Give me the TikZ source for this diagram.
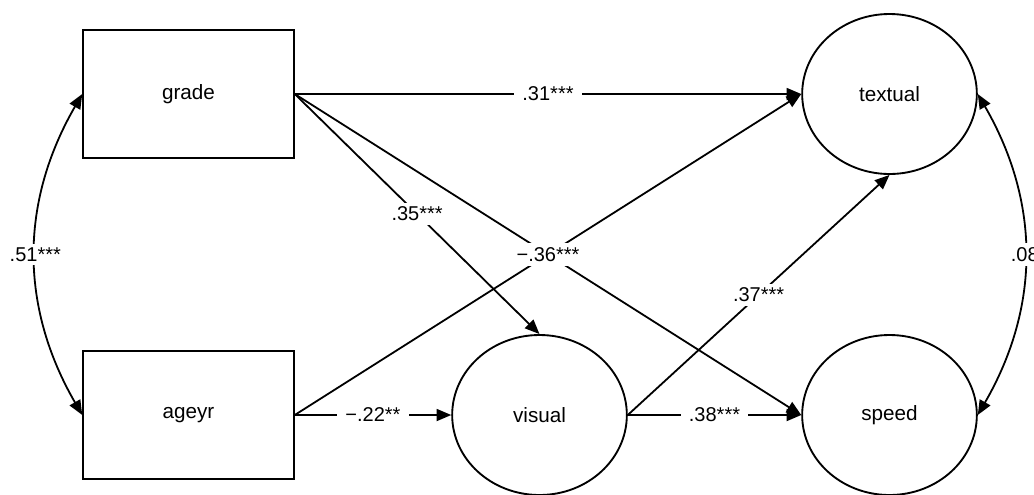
\documentclass[tikz,border=0pt]{standalone}
\usepackage{fontspec}
\setmainfont{Liberation Sans}
\usetikzlibrary{arrows.meta,shapes.geometric}

\begin{document}
\begin{tikzpicture}[x=0.75pt,y=-0.75pt,
  obs/.style={draw, line width=1.4pt, rectangle, inner sep=0pt,
    minimum width=158pt, minimum height=96pt,
    font=\fontsize{15.5}{18}\selectfont},
  lat/.style={draw, line width=1.4pt, ellipse, inner sep=0pt,
    minimum width=131pt, minimum height=120pt,
    font=\fontsize{15.5}{18}\selectfont},
  tip/.tip={Triangle[length=11pt,width=9pt]},
  regr/.style={line width=1.35pt, -tip},
  cov/.style={line width=1.35pt, tip-tip},
  coef/.style={fill=white, inner xsep=6pt, inner ysep=3pt,
    font=\fontsize{15}{17}\selectfont}]

  \useasboundingbox (0,0) rectangle (1034,494);

  % observed predictors
  \node[obs] (grade) at (188.5,94)  {grade};
  \node[obs] (ageyr) at (188.5,415) {ageyr};

  % latent factors
  \node[lat] (textual) at (889.5,94)  {textual};
  \node[lat] (visual)  at (539.5,415) {visual};
  \node[lat] (speed)   at (889.5,415) {speed};

  % unlabelled path first, so the coefficient boxes sit above it
  \draw[regr] (ageyr.east) -- (textual.west);

  % regression paths
  \draw[regr] (grade.east) -- node[coef] {.31***} (textual.west);
  \draw[regr] (grade.east) -- node[coef] {.35***} (visual.north);
  \draw[regr] (grade.east) -- node[coef] {−.36***} (speed.west);
  \draw[regr] (ageyr.east) -- node[coef] {−.22**} (visual.west);
  \draw[regr] (visual.east) -- node[coef] {.37***} (textual.south);
  \draw[regr] (visual.east) -- node[coef] {.38***} (speed.west);

  % covariances
  \draw[cov] (grade.west) to[bend right=30] node[coef] {.51***} (ageyr.west);
  \draw[cov] (textual.east) to[bend left=30] node[coef] {.08} (speed.east);
\end{tikzpicture}
\end{document}
